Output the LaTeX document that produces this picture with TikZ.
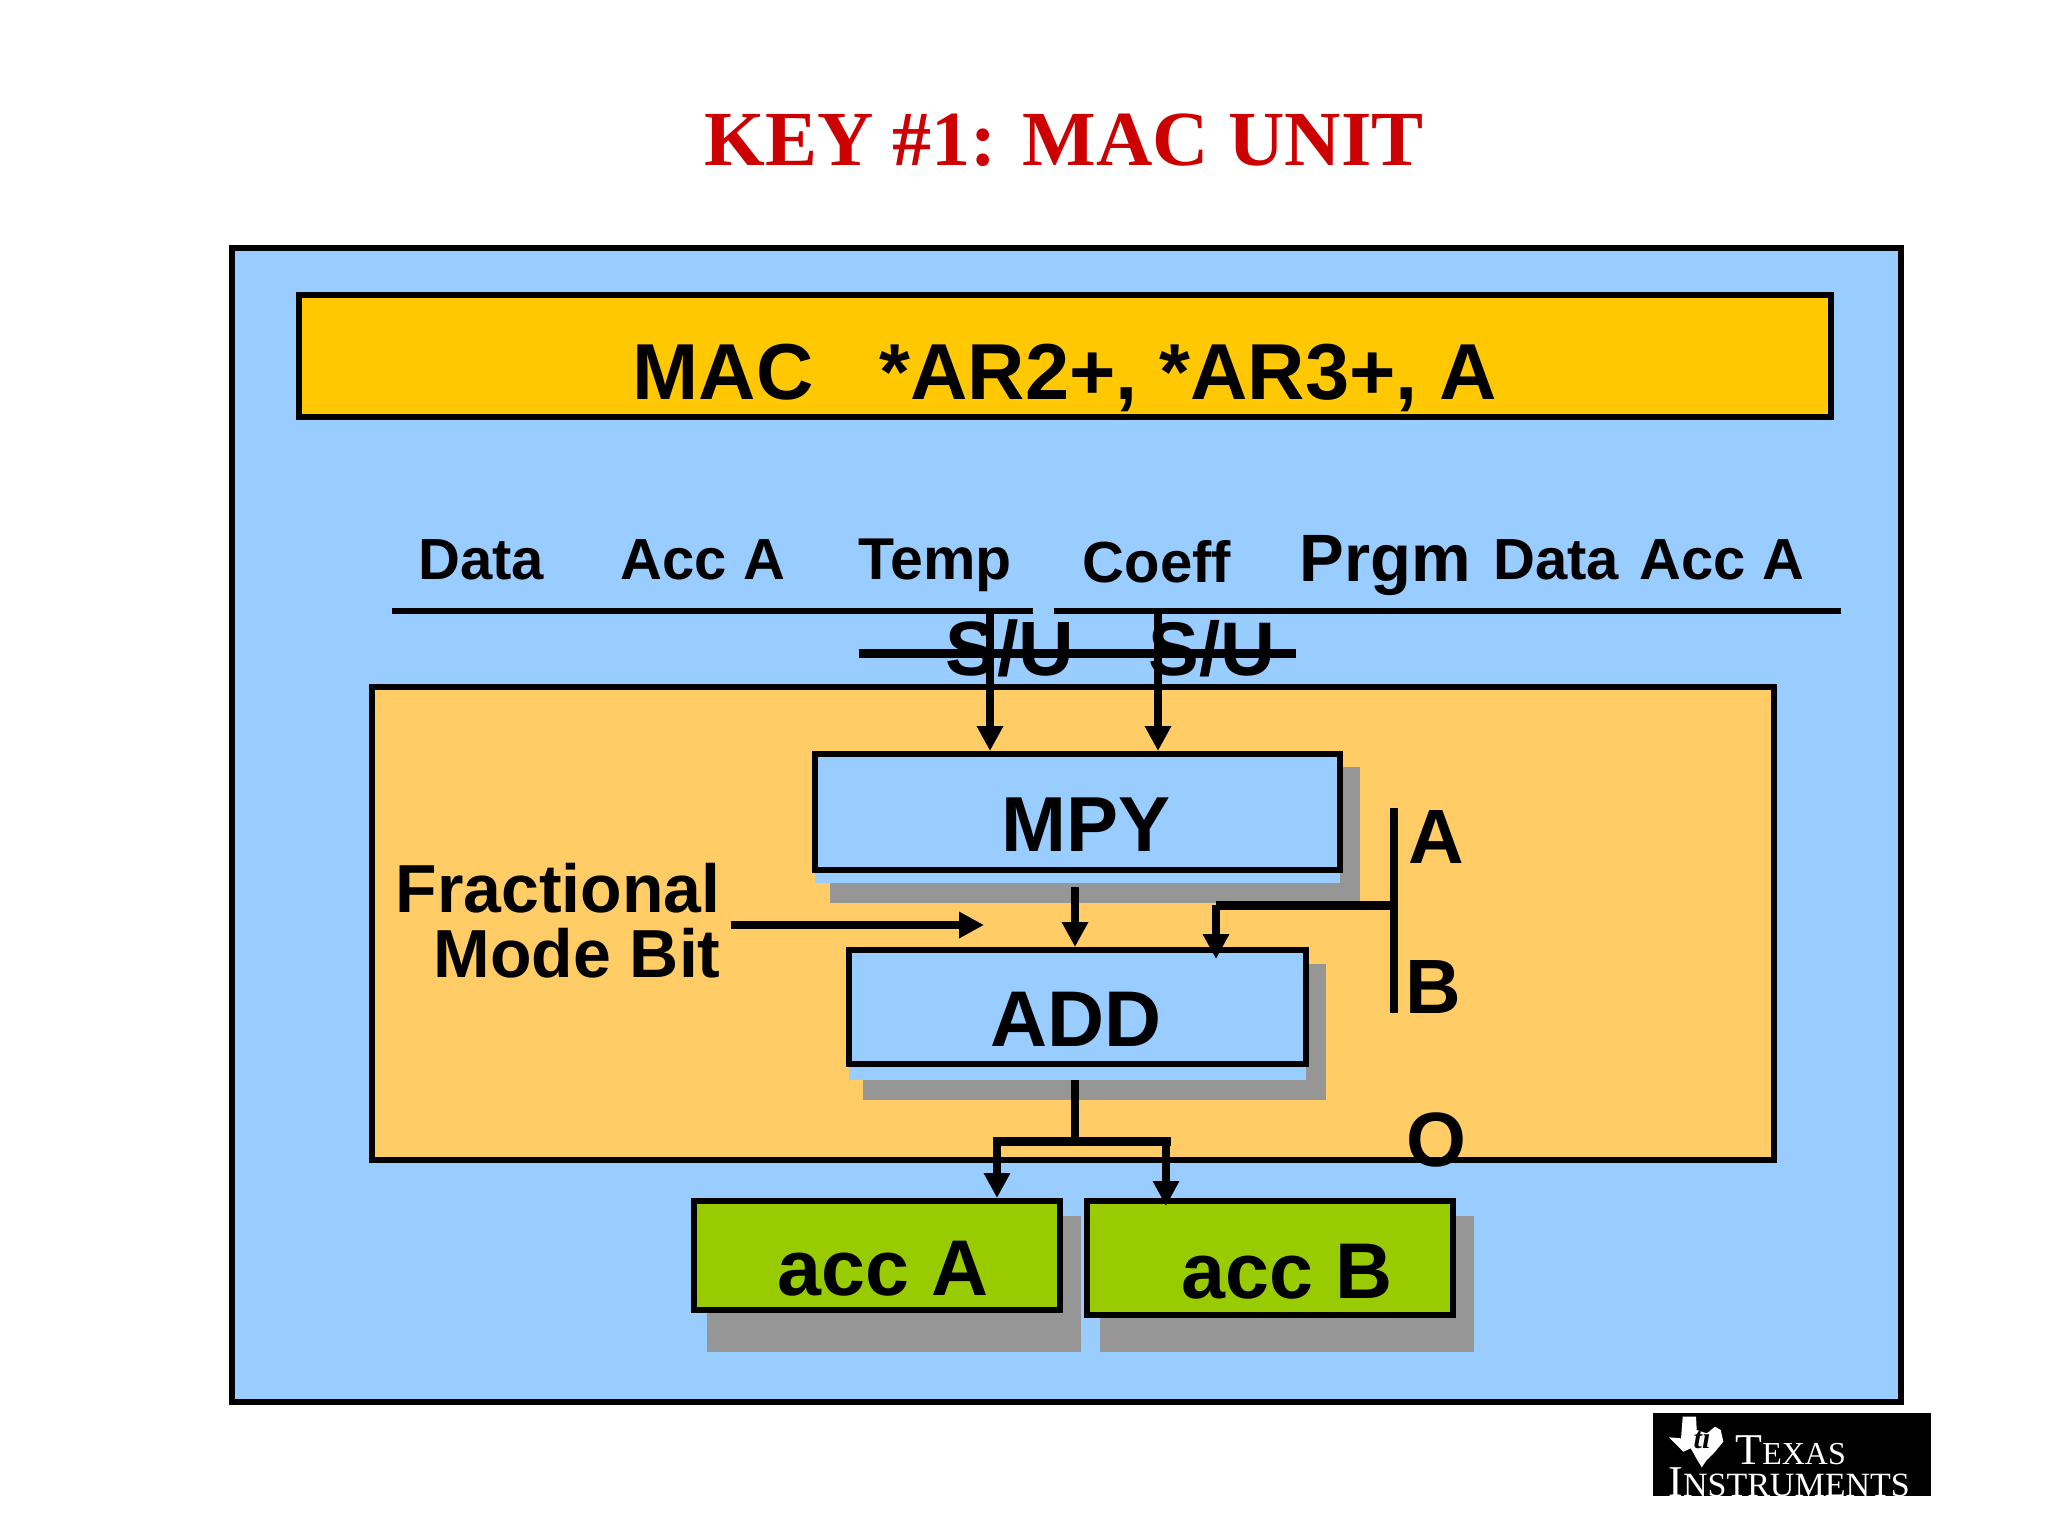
\documentclass[tikz,border=0pt]{standalone}
\usepackage{fontspec}
\setmainfont{Liberation Sans}
\newfontfamily\tifont{Liberation Serif}
\usetikzlibrary{arrows.meta}
\definecolor{panelblue}{HTML}{99CCFF}
\definecolor{paneldark}{HTML}{FFCC66}
\definecolor{instrgold}{HTML}{FFC800}
\definecolor{accgreen}{HTML}{99CC00}
\definecolor{shadowgrey}{HTML}{969696}
\definecolor{titlered}{HTML}{CC0000}
\tikzstyle{panel}=[shape=rectangle,
                draw=black,
                line width=3pt,
                inner sep=0pt]
\tikzstyle{band}=[shape=rectangle,
                fill=panelblue,
                inner sep=0pt]
\tikzstyle{sh}=[shape=rectangle,
                fill=shadowgrey,
                inner sep=0pt]
\tikzstyle{txt}=[anchor=base,
                inner sep=0pt,
                font=\bfseries]
\tikzstyle{wire}=[line width=4pt]
\newcommand{\pts}[1]{\fontsize{#1}{#1}\selectfont}

\begin{document}
\begin{tikzpicture}[x=0.5pt,y=-0.5pt,>={Triangle[length=12.5pt,width=12.5pt]}]
\useasboundingbox (0,0) rectangle (2048,1536);

% title
\node[txt,text=titlered,font=\tifont\bfseries\pts{39}] (title) at (1064,165) {KEY \#1: MAC UNIT};

% panels
\node[panel,fill=panelblue,minimum width=834.25pt,minimum height=577.25pt] (outer) at (1066.25,824.75) {};
\node[panel,fill=instrgold,minimum width=766.25pt,minimum height=61pt] (instr) at (1064.75,356) {};
\node[panel,fill=paneldark,minimum width=700.75pt,minimum height=236.5pt] (inner) at (1073,923.5) {};

% shadows
\node[sh,minimum width=265pt,minimum height=68pt] (mpysh) at (1095,835) {};
\node[sh,minimum width=231.5pt,minimum height=68pt] (addsh) at (1094.5,1032) {};
\node[sh,minimum width=187pt,minimum height=68pt] (acash) at (894,1284) {};
\node[sh,minimum width=186.75pt,minimum height=68pt] (acbsh) at (1286.75,1284) {};
\node[band,minimum width=262.5pt,minimum height=66pt] (mpyband) at (1077.5,817) {};
\node[band,minimum width=228.5pt,minimum height=65pt] (addband) at (1077.5,1015) {};

% blocks
\node[panel,fill=panelblue,minimum width=262.5pt,minimum height=58pt] (mpy) at (1077.5,812) {};
\node[panel,fill=panelblue,minimum width=228.25pt,minimum height=57pt] (add) at (1077.25,1007) {};
\node[panel,fill=accgreen,minimum width=183pt,minimum height=54.5pt] (aca) at (877,1255.5) {};
\node[panel,fill=accgreen,minimum width=183.25pt,minimum height=57pt] (acb) at (1269.75,1258) {};

% free ends
\coordinate (busl) at (392,611);
\coordinate (busm) at (1033,611);
\coordinate (busn) at (1054,611);
\coordinate (busr) at (1841,611);
\coordinate (stl) at (859,653);
\coordinate (str) at (1296,653);
\coordinate (temp) at (990,611);
\coordinate (coef) at (1158,611);
\coordinate (mout) at (1075,887);
\coordinate (fb) at (731,925);
\coordinate (fe) at (984,925);
\coordinate (ra) at (1394,808);
\coordinate (rb) at (1394,1013);
\coordinate (rj) at (1394,905);
\coordinate (rd) at (1216,905);
\coordinate (rt) at (1216,959);
\coordinate (aout) at (1075,1080);
\coordinate (aj) at (1075,1141);
\coordinate (jl) at (997,1141);
\coordinate (jr) at (1166,1141);
\coordinate (jrt) at (1166,1206);

% paths
\draw[line width=3pt] (busl) -- (busm);
\draw[line width=3pt] (busn) -- (busr);
\draw[line width=4.5pt] (stl) -- (str);
\path[wire,->] (temp) edge (temp |- mpy.north);
\path[wire,->] (coef) edge (coef |- mpy.north);
\path[wire,->] (mout) edge (mout |- add.north);
\path[wire,->] (fb) edge (fe);
\draw[wire] (ra) -- (rb);
\draw[line width=4.5pt] (rj) -- (rd);
\draw[wire,->] (rd) -- (rt);
\draw[wire] (aout) -- (aj);
\draw[line width=4.5pt,line cap=rect] (jl) -- (jr);
\draw[wire,->] (jl) -- (jl |- aca.north);
\draw[wire,->] (jr) -- (jrt);

% bus labels
\node[txt,font=\bfseries\pts{29}] (d1) at (481,579) {Data};
\node[txt,font=\bfseries\pts{29}] (a1) at (703,579) {Acc A};
\node[txt,font=\bfseries\pts{29.5}] (tm) at (935,579) {Temp};
\node[txt,font=\bfseries\pts{29}] (cf) at (1157,582) {Coeff};
\node[txt,font=\bfseries\pts{33.5}] (pg) at (1385,581) {Prgm};
\node[txt,font=\bfseries\pts{29}] (d2) at (1556,579) {Data};
\node[txt,font=\bfseries\pts{29}] (a2) at (1722,579) {Acc A};
\node[txt,font=\bfseries\pts{38.5}] (su1) at (1010,675) {S/U};
\node[txt,font=\bfseries\pts{38}] (su2) at (1212,675) {S/U};

% block labels
\node[txt,font=\bfseries\pts{39.7}] (macl) at (1065,399) {MAC \ \ *AR2+, *AR3+, A};
\node[txt,font=\bfseries\pts{39}] (mpyl) at (1086,851) {MPY};
\node[txt,font=\bfseries\pts{39.5}] (addl) at (1076,1046) {ADD};
\node[txt,font=\bfseries\pts{39.5}] (acal) at (883,1295) {acc A};
\node[txt,font=\bfseries\pts{39.5}] (acbl) at (1287,1298) {acc B};
\node[txt,font=\bfseries\pts{38.5}] (al) at (1436,863) {A};
\node[txt,font=\bfseries\pts{38.5}] (bl) at (1433,1013) {B};
\node[txt,font=\bfseries\pts{38.5}] (ol) at (1436,1166) {O};
\node[txt,anchor=base east,font=\bfseries\pts{34}] (fr) at (721,912) {Fractional};
\node[txt,anchor=base east,font=\bfseries\pts{34}] (mb) at (721,977) {Mode Bit};

% logo
\node[shape=rectangle,fill=black,inner sep=0pt,minimum width=139pt,minimum height=41.5pt] (logo) at (1792,1454.5) {};
\fill[white] (1682.7,1416.7) -- (1696,1416.7) -- (1696.7,1430) -- (1706.7,1433.3) -- (1715,1426.7)
  -- (1720.7,1430) -- (1723.3,1441.7) -- (1715,1451.7) -- (1706.7,1460) -- (1701.7,1467.3)
  -- (1697.3,1460) -- (1690.7,1448.3) -- (1683.3,1451.7) -- (1669,1437.3) -- (1681,1438.3) -- cycle;
\node[txt,text=black,font=\tifont\bfseries\itshape\pts{15}] (tim) at (1702,1448) {ti};
\begin{scope}
\clip (logo.south west) rectangle (logo.north east);
\node[anchor=base west,inner sep=0pt,text=white,font=\tifont\pts{16}] (tx) at (1735,1464) {{\pts{22}T}EXAS};
\node[anchor=base west,inner sep=0pt,text=white,font=\tifont\pts{17}] (in) at (1668,1496) {{\pts{22}I}NSTRUMENTS};
\end{scope}

\end{tikzpicture}
\end{document}
